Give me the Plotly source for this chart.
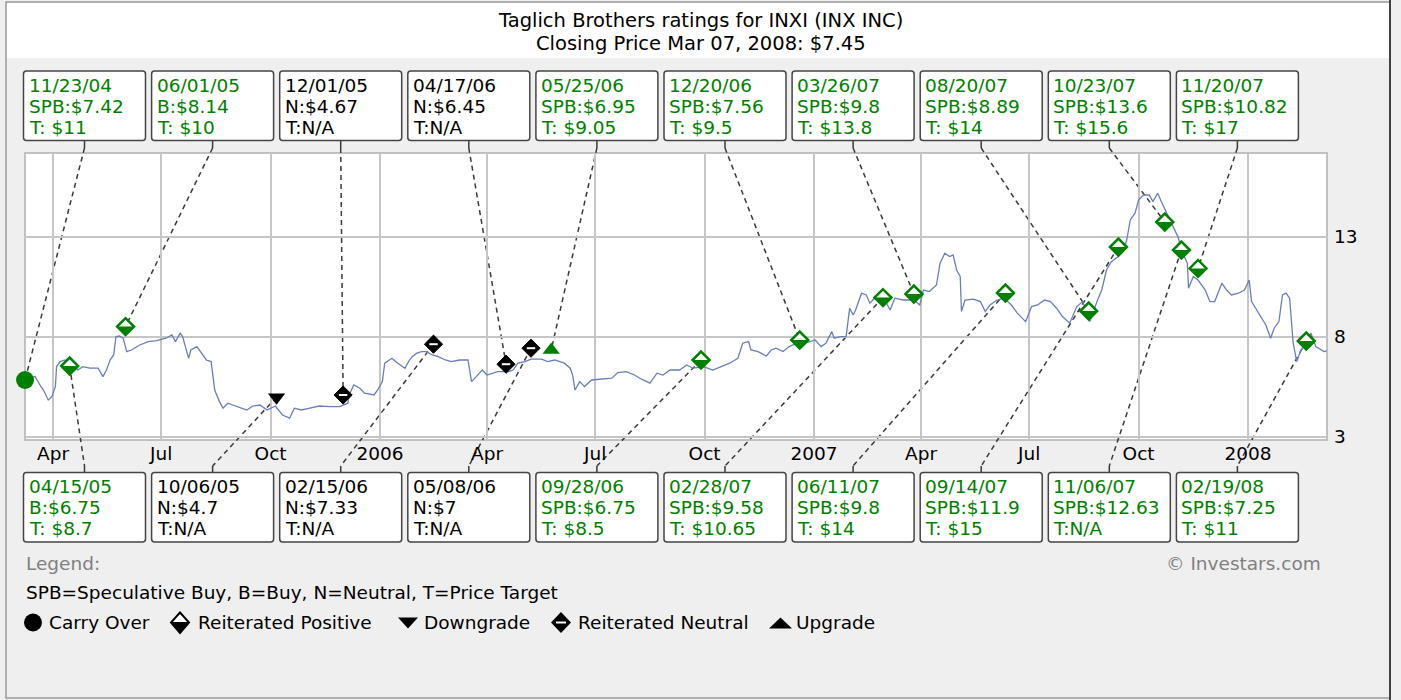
import pandas as pd
import plotly.graph_objects as go

# ---------------- data ----------------
price_dates = [
    "2005-03-08", "2005-03-17", "2005-03-21", "2005-03-24", "2005-03-28", "2005-03-31", "2005-04-03", "2005-04-04",
    "2005-04-07", "2005-04-11", "2005-04-18", "2005-04-22", "2005-04-26", "2005-05-02", "2005-05-09", "2005-05-13",
    "2005-05-16", "2005-05-19", "2005-05-22", "2005-05-24", "2005-05-27", "2005-05-30", "2005-06-02", "2005-06-06",
    "2005-06-13", "2005-06-20", "2005-06-27", "2005-07-05", "2005-07-10", "2005-07-13", "2005-07-17", "2005-07-19",
    "2005-07-24", "2005-07-26", "2005-07-31", "2005-08-04", "2005-08-08", "2005-08-12", "2005-08-15", "2005-08-19",
    "2005-08-22", "2005-08-26", "2005-09-02", "2005-09-11", "2005-09-16", "2005-09-22", "2005-09-28", "2005-10-05",
    "2005-10-11", "2005-10-17", "2005-10-21", "2005-10-27", "2005-11-03", "2005-11-11", "2005-11-20", "2005-11-28",
    "2005-12-05", "2005-12-06", "2005-12-10", "2005-12-15", "2005-12-19", "2005-12-27", "2005-12-30", "2006-01-03",
    "2006-01-05", "2006-01-11", "2006-01-16", "2006-01-22", "2006-01-25", "2006-01-28", "2006-02-01", "2006-02-05",
    "2006-02-09", "2006-02-14", "2006-02-19", "2006-02-25", "2006-03-02", "2006-03-09", "2006-03-16", "2006-03-19",
    "2006-03-23", "2006-03-28", "2006-04-01", "2006-04-05", "2006-04-10", "2006-04-19", "2006-04-23", "2006-04-27",
    "2006-05-03", "2006-05-08", "2006-05-17", "2006-05-22", "2006-05-28", "2006-06-05", "2006-06-10", "2006-06-12",
    "2006-06-14", "2006-06-18", "2006-06-22", "2006-06-28", "2006-07-06", "2006-07-15", "2006-07-20", "2006-07-27",
    "2006-08-03", "2006-08-09", "2006-08-16", "2006-08-22", "2006-08-27", "2006-09-02", "2006-09-10", "2006-09-16",
    "2006-09-21", "2006-09-30", "2006-10-08", "2006-10-14", "2006-10-22", "2006-10-29", "2006-11-02", "2006-11-07",
    "2006-11-09", "2006-11-15", "2006-11-22", "2006-11-26", "2006-11-30", "2006-12-06", "2006-12-11", "2006-12-18",
    "2006-12-26", "2007-01-02", "2007-01-07", "2007-01-11", "2007-01-16", "2007-01-18", "2007-01-23", "2007-01-28",
    "2007-01-31", "2007-02-03", "2007-02-05", "2007-02-10", "2007-02-14", "2007-02-17", "2007-02-21", "2007-02-28",
    "2007-03-06", "2007-03-10", "2007-03-17", "2007-03-26", "2007-03-31", "2007-04-03", "2007-04-08", "2007-04-14",
    "2007-04-17", "2007-04-21", "2007-04-25", "2007-04-28", "2007-05-01", "2007-05-04", "2007-05-05", "2007-05-08",
    "2007-05-15", "2007-05-21", "2007-05-25", "2007-05-29", "2007-06-04", "2007-06-10", "2007-06-16", "2007-06-21",
    "2007-06-28", "2007-07-03", "2007-07-08", "2007-07-14", "2007-07-19", "2007-07-24", "2007-07-29", "2007-08-04",
    "2007-08-10", "2007-08-15", "2007-08-21", "2007-08-27", "2007-08-31", "2007-09-04", "2007-09-08", "2007-09-14",
    "2007-09-18", "2007-09-21", "2007-09-24", "2007-09-28", "2007-10-01", "2007-10-05", "2007-10-10", "2007-10-13",
    "2007-10-17", "2007-10-22", "2007-10-26", "2007-10-30", "2007-11-03", "2007-11-07", "2007-11-11", "2007-11-12",
    "2007-11-16", "2007-11-20", "2007-11-26", "2007-11-30", "2007-12-04", "2007-12-10", "2007-12-14", "2007-12-18",
    "2007-12-24", "2007-12-29", "2008-01-02", "2008-01-04", "2008-01-10", "2008-01-16", "2008-01-20", "2008-01-23",
    "2008-01-27", "2008-01-30", "2008-02-02", "2008-02-05", "2008-02-08", "2008-02-11", "2008-02-14", "2008-02-18",
    "2008-02-23", "2008-02-27", "2008-03-05", "2008-03-07",
]
price_values = [
    5.90, 6.02, 5.60, 5.35, 4.85, 5.02, 5.52, 6.52,
    6.77, 6.85, 6.60, 6.35, 6.52, 6.44, 6.44, 6.02,
    6.35, 6.85, 7.10, 8.02, 8.05, 7.94, 7.27, 7.35,
    7.60, 7.77, 7.82, 7.94, 8.10, 7.77, 8.19, 8.02,
    6.94, 7.35, 7.52, 7.19, 6.85, 6.77, 5.35, 4.77,
    4.44, 4.69, 4.55, 4.35, 4.55, 4.60, 4.35, 4.55,
    4.10, 3.94, 4.44, 4.35, 4.44, 4.55, 4.52, 4.52,
    4.69, 5.10, 5.60, 5.44, 5.19, 5.10, 5.35, 5.77,
    6.69, 6.94, 6.69, 6.44, 6.77, 7.02, 7.19, 7.27,
    7.27, 7.10, 7.02, 6.85, 6.77, 6.85, 6.85, 5.77,
    6.02, 6.35, 6.10, 6.19, 6.27, 6.27, 6.35, 6.69,
    6.77, 6.89, 6.89, 6.77, 6.85, 6.69, 6.44, 6.10,
    5.35, 5.77, 5.52, 5.85, 5.89, 5.94, 6.22, 6.27,
    6.10, 5.89, 5.69, 6.19, 6.10, 6.35, 6.35, 6.60,
    6.44, 6.52, 6.35, 6.49, 6.69, 6.94, 7.69, 7.77,
    7.35, 7.27, 7.05, 7.35, 7.44, 7.27, 7.52, 7.69,
    7.72, 7.85, 7.52, 7.69, 8.27, 7.94, 8.02, 8.02,
    9.44, 9.10, 9.35, 10.19, 10.10, 9.69, 9.94, 10.02,
    9.35, 9.94, 9.85, 9.85, 9.60, 10.35, 10.27, 10.60,
    11.69, 12.19, 12.02, 12.10, 11.35, 11.02, 9.27, 9.85,
    9.89, 9.77, 9.27, 9.60, 9.85, 9.94, 9.60, 9.19,
    8.77, 9.52, 9.60, 9.85, 9.77, 9.44, 9.02, 8.69,
    9.52, 9.77, 8.77, 9.77, 10.35, 11.35, 11.77, 12.02,
    12.27, 12.85, 13.85, 14.19, 14.85, 15.10, 15.10, 14.77,
    15.19, 14.52, 14.02, 13.44, 13.02, 12.19, 11.69, 10.44,
    11.02, 10.85, 10.35, 9.77, 9.77, 10.69, 10.35, 10.10,
    10.19, 10.35, 10.85, 9.77, 9.19, 8.60, 7.94, 8.44,
    8.77, 10.10, 10.19, 9.94, 7.69, 6.77, 7.27, 7.69,
    8.19, 7.52, 7.27, 7.30,
]

# ratings in chronological order (alternating top / bottom label boxes)
rating_labels = ["11/23/04", "04/15/05", "06/01/05", "10/06/05", "12/01/05", "02/15/06", "04/17/06",
                 "05/08/06", "05/25/06", "09/28/06", "12/20/06", "02/28/07", "03/26/07", "06/11/07",
                 "08/20/07", "09/14/07", "10/23/07", "11/06/07", "11/20/07", "02/19/08"]
rating_codes = ["SPB:$7.42", "B:$6.75", "B:$8.14", "N:$4.7", "N:$4.67", "N:$7.33", "N:$6.45",
                "N:$7", "SPB:$6.95", "SPB:$6.75", "SPB:$7.56", "SPB:$9.58", "SPB:$9.8", "SPB:$9.8",
                "SPB:$8.89", "SPB:$11.9", "SPB:$13.6", "SPB:$12.63", "SPB:$10.82", "SPB:$7.25"]
rating_targets = ["T: $11", "T: $8.7", "T: $10", "T:N/A", "T:N/A", "T:N/A", "T:N/A",
                  "T:N/A", "T: $9.05", "T: $8.5", "T: $9.5", "T: $10.65", "T: $13.8", "T: $14",
                  "T: $14", "T: $15", "T: $15.6", "T:N/A", "T: $17", "T: $11"]
rating_kinds = ["carry", "positive", "positive", "downgrade", "neutral", "neutral", "neutral",
                "neutral", "upgrade", "positive", "positive", "positive", "positive", "positive",
                "positive", "positive", "positive", "positive", "positive", "positive"]
marker_dates = ["2005-03-08 12:00", "2005-04-15", "2005-06-01", "2005-10-06", "2005-12-01", "2006-02-15",
                "2006-04-17", "2006-05-08", "2006-05-25", "2006-09-28", "2006-12-20", "2007-02-28",
                "2007-03-26", "2007-06-11", "2007-08-20", "2007-09-14", "2007-10-23", "2007-11-06",
                "2007-11-20", "2008-02-19"]
marker_values = [5.85, 6.55, 8.52, 4.99, 5.10, 7.64, 6.64, 7.44, 7.35, 6.85,
                 7.85, 9.97, 10.15, 10.20, 9.30, 12.50, 13.75, 12.35, 11.43, 7.80]

tick_dates = ["2005-04-01", "2005-07-01", "2005-10-01", "2006-01-01", "2006-04-01", "2006-07-01",
              "2006-10-01", "2007-01-01", "2007-04-01", "2007-07-01", "2007-10-01", "2008-01-01"]
tick_labels = ["Apr", "Jul", "Oct", "2006", "Apr", "Jul", "Oct", "2007", "Apr", "Jul", "Oct", "2008"]
y_ticks = [3, 8, 13]

title_lines = ["Taglich Brothers ratings for INXI (INX INC)", "Closing Price Mar 07, 2008: $7.45"]
legend_note = "SPB=Speculative Buy, B=Buy, N=Neutral, T=Price Target"
legend_items = ["Carry Over", "Reiterated Positive", "Downgrade", "Reiterated Neutral", "Upgrade"]

# ---------------- layout constants (pixels) ----------------
W, H = 1401, 700
PL, PR, PT, PB = 25, 1327, 153, 440
X_START, X_END = "2005-03-08 11:00:00", "2008-03-07 10:30:00"
YMIN, YMAX = 2.85, 17.2
FONT = "DejaVu Sans"
FS = 18.5
GREEN = "#008000"
LINE_BLUE = "#6a7fb7"
GRID = "#c6c6c6"
CONN = "#3a3a3a"

BOX_X0, BOX_PITCH, BOX_W = 23.5, 128.1, 122
TOP_Y0, TOP_Y1 = 71, 140.5
BOT_Y0, BOT_Y1 = 472.5, 542
LINE_OFFS = [14.2, 35.0, 56.0]


def fx(x):
    return x / W


def fy(y):
    return 1 - y / H


T0, T1 = pd.Timestamp(X_START), pd.Timestamp(X_END)


def date_px(d):
    return PL + (pd.Timestamp(d) - T0) / (T1 - T0) * (PR - PL)


def price_px(p):
    return PB - (p - YMIN) / (YMAX - YMIN) * (PB - PT)


PX_PER_UNIT = (PB - PT) / (YMAX - YMIN)

fig = go.Figure()

fig.add_trace(go.Scatter(x=price_dates, y=price_values, mode="lines",
                         line=dict(color=LINE_BLUE, width=1.3), hoverinfo="skip"))


def sel(kind):
    idx = [i for i, k in enumerate(rating_kinds) if k == kind]
    return [marker_dates[i] for i in idx], [marker_values[i] for i in idx]


def add_markers(xs, ys, **marker):
    fig.add_trace(go.Scatter(x=xs, y=ys, mode="markers", marker=marker,
                             cliponaxis=False, hoverinfo="skip"))


xs, ys = sel("carry")
add_markers(xs, ys, symbol="circle", size=18, color=GREEN, line=dict(width=0))

xs, ys = sel("positive")
add_markers(xs, ys, symbol="diamond", size=13, color="white", line=dict(color=GREEN, width=2.5))
add_markers(xs, [v - 2.8 / PX_PER_UNIT for v in ys], symbol="triangle-se", angle=45,
            size=13.3, color=GREEN, line=dict(width=0))

xs, ys = sel("neutral")
add_markers(xs, ys, symbol="diamond", size=14, color="black", line=dict(color="black", width=1))
add_markers(xs, ys, symbol="line-ew", size=6, line=dict(color="white", width=2))

xs, ys = sel("downgrade")
add_markers(xs, ys, symbol="triangle-down", size=15, color="black", line=dict(width=0))

xs, ys = sel("upgrade")
add_markers(xs, ys, symbol="triangle-up", size=15, color=GREEN, line=dict(width=0))

shapes = []
annotations = []


def rect(x0, y0, x1, y1, fill=None, line=None, width=0, layer="below"):
    shapes.append(dict(type="rect", xref="paper", yref="paper", x0=fx(x0), x1=fx(x1),
                       y0=fy(y1), y1=fy(y0), fillcolor=fill or "rgba(0,0,0,0)",
                       line=dict(color=line or "rgba(0,0,0,0)", width=width), layer=layer))


def seg(x0, y0, x1, y1, color, width=1.5, dash="solid", layer="below"):
    shapes.append(dict(type="line", xref="paper", yref="paper", x0=fx(x0), y0=fy(y0),
                       x1=fx(x1), y1=fy(y1), line=dict(color=color, width=width, dash=dash),
                       layer=layer))


def poly(pts, fill, line=None, width=0, layer="above"):
    d = "M " + " L ".join(f"{fx(x):.6f},{fy(y):.6f}" for x, y in pts) + " Z"
    shapes.append(dict(type="path", xref="paper", yref="paper", path=d, fillcolor=fill,
                       line=dict(color=line or "rgba(0,0,0,0)", width=width), layer=layer))


def rrect_path(x0, y0, x1, y1, r):
    def p(x, y):
        return f"{fx(x):.6f},{fy(y):.6f}"
    return (f"M {p(x0 + r, y0)} L {p(x1 - r, y0)} Q {p(x1, y0)} {p(x1, y0 + r)} "
            f"L {p(x1, y1 - r)} Q {p(x1, y1)} {p(x1 - r, y1)} L {p(x0 + r, y1)} "
            f"Q {p(x0, y1)} {p(x0, y1 - r)} L {p(x0, y0 + r)} Q {p(x0, y0)} {p(x0 + r, y0)} Z")


def text(x, y, s, size=FS, color="black", anchor="left"):
    annotations.append(dict(x=fx(x), y=fy(y), xref="paper", yref="paper", text=s,
                            showarrow=False, xanchor=anchor, yanchor="middle",
                            font=dict(family=FONT, size=size, color=color)))


# frame & title band
rect(7, 3, 1389, 58, fill="white")
rect(6, 2, 1390, 698, line="#9a9a9a", width=1.5)
seg(1390, 0, 1390, 700, "#404040", width=2)
rect(PL, PT, PR, PB, line="#b0b0b0", width=1.5)

text(700.5, 20, title_lines[0], size=19.5, anchor="center")
text(700.5, 44, title_lines[1], size=19.5, anchor="center")

# boxes, labels, connectors
for i in range(len(rating_labels)):
    top = (i % 2 == 0)
    slot = i // 2
    x0 = BOX_X0 + slot * BOX_PITCH
    x1 = x0 + BOX_W
    y0, y1 = (TOP_Y0, TOP_Y1) if top else (BOT_Y0, BOT_Y1)
    shapes.append(dict(type="path", xref="paper", yref="paper", path=rrect_path(x0, y0, x1, y1, 3),
                       fillcolor="white", line=dict(color="#454545", width=1.5), layer="above"))
    col = "black" if rating_kinds[i] in ("neutral", "downgrade") else GREEN
    for off, s in zip(LINE_OFFS, [rating_labels[i], rating_codes[i], rating_targets[i]]):
        text(x0 + 3, y0 + off, s, color=col)
    xc = (x0 + x1) / 2
    mx, my = date_px(marker_dates[i]), price_px(marker_values[i])
    if top:
        seg(xc, y1, xc, 148, CONN)
        seg(xc, 148, mx, my, CONN, dash="5px,4px")
    else:
        seg(mx, my, xc, 466, CONN, dash="5px,4px")
        seg(xc, 466, xc, y0, CONN)

# legend
text(24, 563, "Legend:", color="#808080")
text(1323, 563, "© Investars.com", color="#808080", anchor="right")
text(24, 592.5, legend_note)
LY = 622.5
shapes.append(dict(type="circle", xref="paper", yref="paper", x0=fx(24), x1=fx(42),
                   y0=fy(LY + 9), y1=fy(LY - 9), fillcolor="black", line=dict(width=0)))
poly([(180, LY - 10), (189, LY), (180, LY + 10.5), (171, LY)], "white", "black", 2)
poly([(171, LY), (189, LY), (180, LY + 10.5)], "black", "black", 1)
poly([(398, LY - 5), (418, LY - 5), (408, LY + 6)], "black")
poly([(561, LY - 10.5), (571, LY), (561, LY + 10.5), (551, LY)], "black")
seg(556, LY, 566, LY, "white", width=2, layer="above")
poly([(769, LY + 6), (792, LY + 6), (780.5, LY - 5)], "black")
for x, s in zip([47, 196, 422, 576, 794], legend_items):
    text(x, LY, s)

fig.update_layout(
    width=W, height=H, margin=dict(l=0, r=0, t=0, b=0, pad=0, autoexpand=False),
    paper_bgcolor="#efefef", plot_bgcolor="white", showlegend=False,
    shapes=shapes, annotations=annotations,
    xaxis=dict(domain=[fx(PL), fx(PR)], range=[X_START, X_END], type="date",
               tickmode="array", tickvals=tick_dates, ticktext=tick_labels,
               showgrid=True, gridcolor=GRID, gridwidth=1.5, ticks="", zeroline=False,
               showline=False, tickfont=dict(family=FONT, size=FS, color="black"),
               ticklabelstandoff=0, automargin=False, fixedrange=True),
    yaxis=dict(domain=[fy(PB), fy(PT)], range=[YMIN, YMAX], side="right",
               tickmode="array", tickvals=y_ticks, ticktext=[str(v) for v in y_ticks],
               showgrid=True, gridcolor=GRID, gridwidth=1.5, ticks="", zeroline=False,
               showline=False, tickfont=dict(family=FONT, size=FS, color="black"),
               ticklabelstandoff=6, automargin=False, fixedrange=True),
)

fig.write_html("out.html", config={"displayModeBar": False},
               post_script="document.body.style.margin='0';document.body.style.overflow='hidden';")
